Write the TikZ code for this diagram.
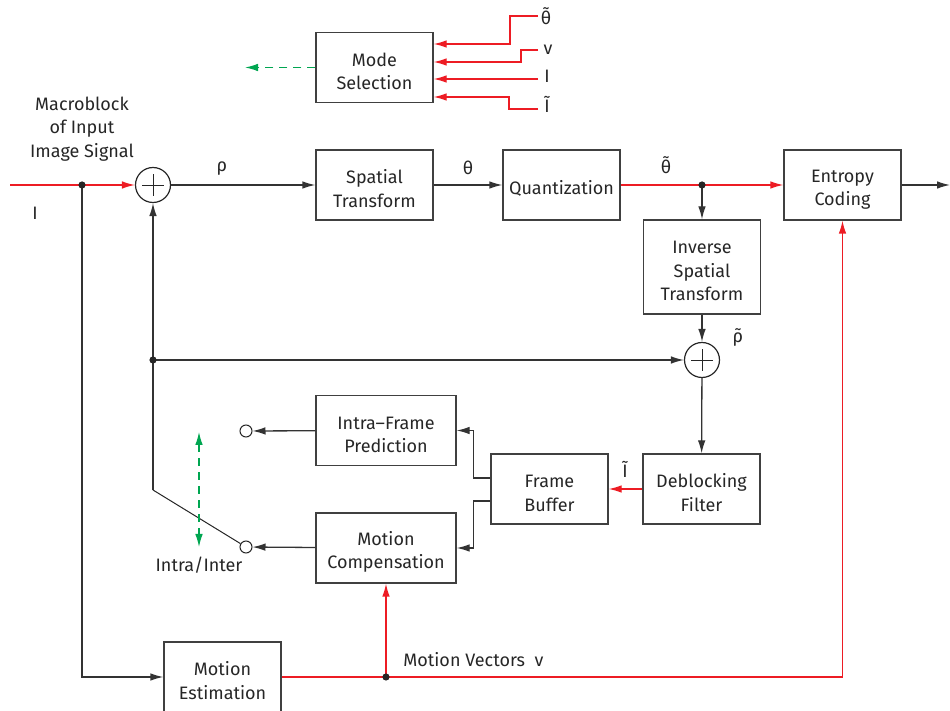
\documentclass[tikz,border=0pt]{standalone}
\usepackage{fontspec}
\setmainfont{Fira Sans}
\usetikzlibrary{positioning}
\usetikzlibrary{arrows.meta}
\definecolor{sigred}{RGB}{237,28,36}
\definecolor{modegreen}{RGB}{0,166,81}
\tikzset{
  every node/.style={
    align=center,
    text=black!85,
    font=\fontsize{9}{11.75}\selectfont,
  },
  block/.style={draw=black!75, line width=0.65pt, minimum width=58.5pt,
    minimum height=35pt, inner sep=1pt, text height=22.6pt},
  oneline/.style={text height=10.5pt},
  threeline/.style={text height=33.9pt},
  sumnode/.style={circle, draw=black!85, line width=0.6pt, minimum size=17.5pt,
    inner sep=0pt, path picture={
      \draw[line width=0.4pt] ([yshift=-3.4pt]path picture bounding box.north)
        -- ([yshift=3.4pt]path picture bounding box.south)
        ([xshift=3.4pt]path picture bounding box.west)
        -- ([xshift=-3.4pt]path picture bounding box.east);}},
  contact/.style={circle, draw=black!85, line width=0.5pt, minimum size=6pt, inner sep=0pt},
  junction/.style={circle, fill=black!85, minimum size=3.6pt, inner sep=0pt},
  wire/.style={draw=black!80, line width=0.65pt},
  sig/.style={wire, -{Latex[length=6.5pt,width=3.8pt]}},
  redsig/.style={sig, draw=sigred, color=sigred},
  redwire/.style={draw=sigred, line width=0.65pt},
  modesig/.style={draw=modegreen, color=modegreen, dashed, line width=0.65pt,
    dash pattern=on 4pt off 3pt},
  lbl/.style={anchor=base, inner sep=0pt},
}

\begin{document}
\begin{tikzpicture}[x=0.5pt, y=-0.5pt]
    \useasboundingbox (0,0) rectangle (950,711);
    % blocks
    \node[block] (mode) at (374.5,67.5) {Mode\\Selection};
    \node[block] (spat) at (374.5,185) {Spatial\\Transform};
    \node[block, oneline] (quant) at (561.5,185) {Quantization};
    \node[block] (entropy) at (842.5,185) {Entropy\\Coding};
    \node[block, threeline, minimum height=47pt] (inv) at (702,267) {Inverse\\Spatial\\Transform};
    \node[block] (deblock) at (701.5,489) {Deblocking\\Filter};
    \node[block] (buffer) at (549.5,489) {Frame\\Buffer};
    \node[block, minimum width=70pt] (intra) at (386,430.5) {Intra--Frame\\Prediction};
    \node[block, minimum width=70pt] (mc) at (386,548) {Motion\\Compensation};
    \node[block] (me) at (222.5,677) {Motion\\Estimation};
    % adders, switch and branch points
    \node[sumnode] (sumA) at (153,185) {};
    \node[sumnode] (sumB) at (702,360) {};
    \node[contact] (cintra) at (246,431) {};
    \node[contact] (cinter) at (246,547) {};
    \coordinate (pivot) at (153,490);
    \coordinate (in) at (10,185);
    \coordinate (out) at (950,185);
    \coordinate (modeout) at (245,67.5);
    \coordinate (swtop) at (199,432);
    \coordinate (swbot) at (199,547);
    \coordinate (tqin) at (538,16);
    \coordinate (vin) at (538,50);
    \coordinate (iin) at (538,79);
    \coordinate (tiin) at (538,109);
    % forward path
    \draw[redwire] (in) -- (82,185);
    \draw[redsig] (82,185) -- (sumA);
    \draw[sig] (sumA) -- (spat);
    \draw[sig] (spat) -- (quant);
    \draw[redwire] (quant) -- (702,185);
    \draw[redsig] (702,185) -- (entropy);
    \draw[sig] (entropy) -- (out);
    % reconstruction loop
    \draw[sig] (702,185) -- (inv);
    \draw[sig] (inv) -- (sumB);
    \draw[sig] (sumB) -- (deblock);
    \draw[redsig] (deblock) -- (buffer);
    \draw[sig] ([yshift=5.5pt]buffer.west) -- ++(-17,0) |- (intra);
    \draw[sig] ([yshift=-6pt]buffer.west) -- ++(-17,0) |- (mc);
    \draw[sig] (intra) -- (cintra);
    \draw[sig] (mc) -- (cinter);
    \draw[draw=black!85, line width=0.5pt] (cinter) -- (pivot);
    \draw[wire] (pivot) -- (153,360);
    \draw[sig] (153,360) -- (sumA);
    \draw[sig] (153,360) -- (sumB);
    \draw[modesig, {Latex[length=6.5pt,width=3.8pt]}-{Latex[length=6.5pt,width=3.8pt]}] (swtop) -- (swbot);
    % motion estimation
    \draw[sig] (82,185) |- (me);
    \draw[redwire] (me) -- (386,677);
    \draw[redsig] (386,677) -| (entropy);
    \draw[redsig] (386,677) -- (mc);
    % mode selection
    \draw[modesig, -{Latex[length=6.5pt,width=3.8pt]}] (mode) -- (modeout);
    \draw[redsig] (tqin) -| (510,44) -- (mode.east |- 0,44);
    \draw[redsig] (vin) -| (521,62) -- (mode.east |- 0,62);
    \draw[redsig] (iin) -- (mode.east |- 0,79);
    \draw[redsig] (tiin) -| (509,97) -- (mode.east |- 0,97);
    % branch dots
    \node[junction] (jin) at (82,185) {};
    \node[junction] (jq) at (702,185) {};
    \node[junction] (jfb) at (153,360) {};
    \node[junction] (jmv) at (386,677) {};
    % labels
    \node (macro) at (82,129) {Macroblock\\of Input\\Image Signal};
    \node[lbl] (lin) at (35,220) {I};
    \node[lbl] (lrho) at (222,172) {ρ};
    \node[lbl] (ltheta) at (468,175) {θ};
    \node[lbl] (lqtheta) at (666,174) {θ̃};
    \node[lbl] (lqrho) at (738,343) {ρ̃};
    \node[lbl] (ldb) at (625,478) {Ĩ};
    \node[lbl] (lsw) at (199,572) {Intra/Inter};
    \node[lbl, anchor=base west] (lmv) at (403,667) {Motion Vectors};
    \node[lbl] (lv) at (539,667) {v};
    \node[lbl] (mtheta) at (546,25) {θ̃};
    \node[lbl] (mv) at (548,55) {v};
    \node[lbl] (mi) at (547,83) {I};
    \node[lbl] (mti) at (547,113) {Ĩ};
\end{tikzpicture}
\end{document}
